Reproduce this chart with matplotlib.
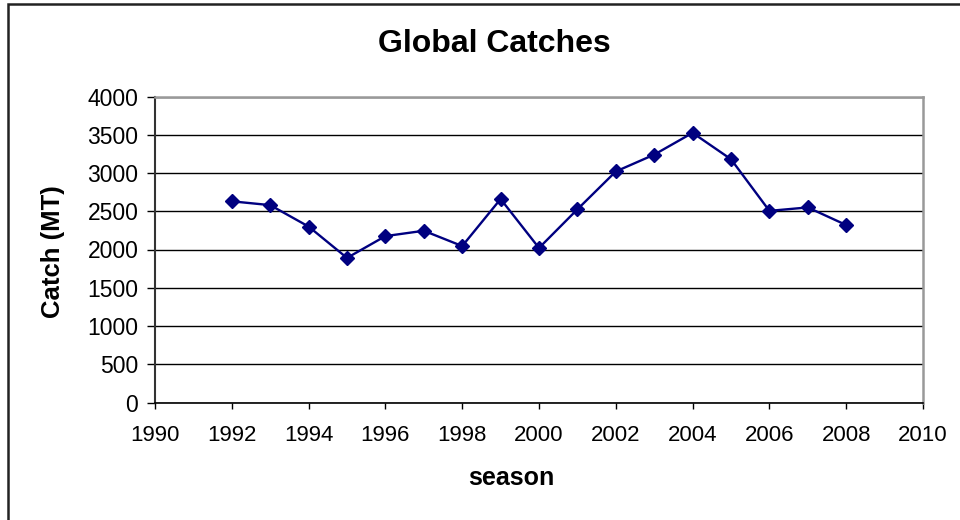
import matplotlib
matplotlib.use("Agg")
import matplotlib.pyplot as plt
from matplotlib.patches import Rectangle

plt.rcParams['font.family'] = ['Liberation Sans', 'DejaVu Sans']

seasons = [1992, 1993, 1994, 1995, 1996, 1997, 1998, 1999, 2000,
           2001, 2002, 2003, 2004, 2005, 2006, 2007, 2008]
catch = [2630, 2580, 2300, 1890, 2175, 2245, 2045, 2660, 2020,
         2525, 3020, 3240, 3525, 3180, 2505, 2550, 2320]
x_ticks = list(range(1990, 2011, 2))
y_ticks = list(range(0, 4001, 500))

W, H = 960, 520
fig = plt.figure(figsize=(W / 100, H / 100), dpi=100)

# outer chart border
fig.patches.append(Rectangle((8 / W, -0.1), 1.2, 1 - 4.5 / H + 0.1,
                             transform=fig.transFigure, fill=False,
                             edgecolor='#222222', linewidth=1.8))

left, right, top, bottom = 155, 923, 96.5, 402.5
ax = fig.add_axes([left / W, 1 - bottom / H, (right - left) / W, (bottom - top) / H])

ax.plot(seasons, catch, color='#000080', linewidth=1.7, marker='D',
        markersize=7, markerfacecolor='#000080', markeredgecolor='#000080',
        zorder=3, clip_on=False)

ax.set_xlim(1990, 2010)
ax.set_ylim(0, 4000)
ax.set_xticks(x_ticks)
ax.set_yticks(y_ticks)
ax.set_xticklabels([str(v) for v in x_ticks])
ax.set_yticklabels([str(v) for v in y_ticks])
ax.tick_params(axis='both', colors='black', width=1, direction='out')
ax.tick_params(axis='x', length=4.5, pad=12, labelsize=16)
ax.tick_params(axis='y', length=6, pad=6, labelsize=16.5)

ax.yaxis.grid(True, color='black', linewidth=1.0)
ax.set_axisbelow(True)

ax.spines['top'].set_color('#999999')
ax.spines['right'].set_color('#999999')
ax.spines['top'].set_linewidth(1.8)
ax.spines['right'].set_linewidth(1.8)
ax.spines['left'].set_color('#333333')
ax.spines['left'].set_linewidth(1.5)
ax.spines['bottom'].set_color('black')
ax.spines['bottom'].set_linewidth(1.2)

fig.text(494 / W, 1 - 44 / H, 'Global Catches', ha='center', va='center',
         fontsize=23, fontweight='bold')
fig.text(53 / W, 1 - 252 / H, 'Catch (MT)', ha='center', va='center',
         rotation=90, fontsize=18.5, fontweight='bold')
fig.text(511 / W, 1 - 478 / H, 'season', ha='center', va='center',
         fontsize=18, fontweight='bold')

fig.savefig('out.png', dpi=100, facecolor='white')
